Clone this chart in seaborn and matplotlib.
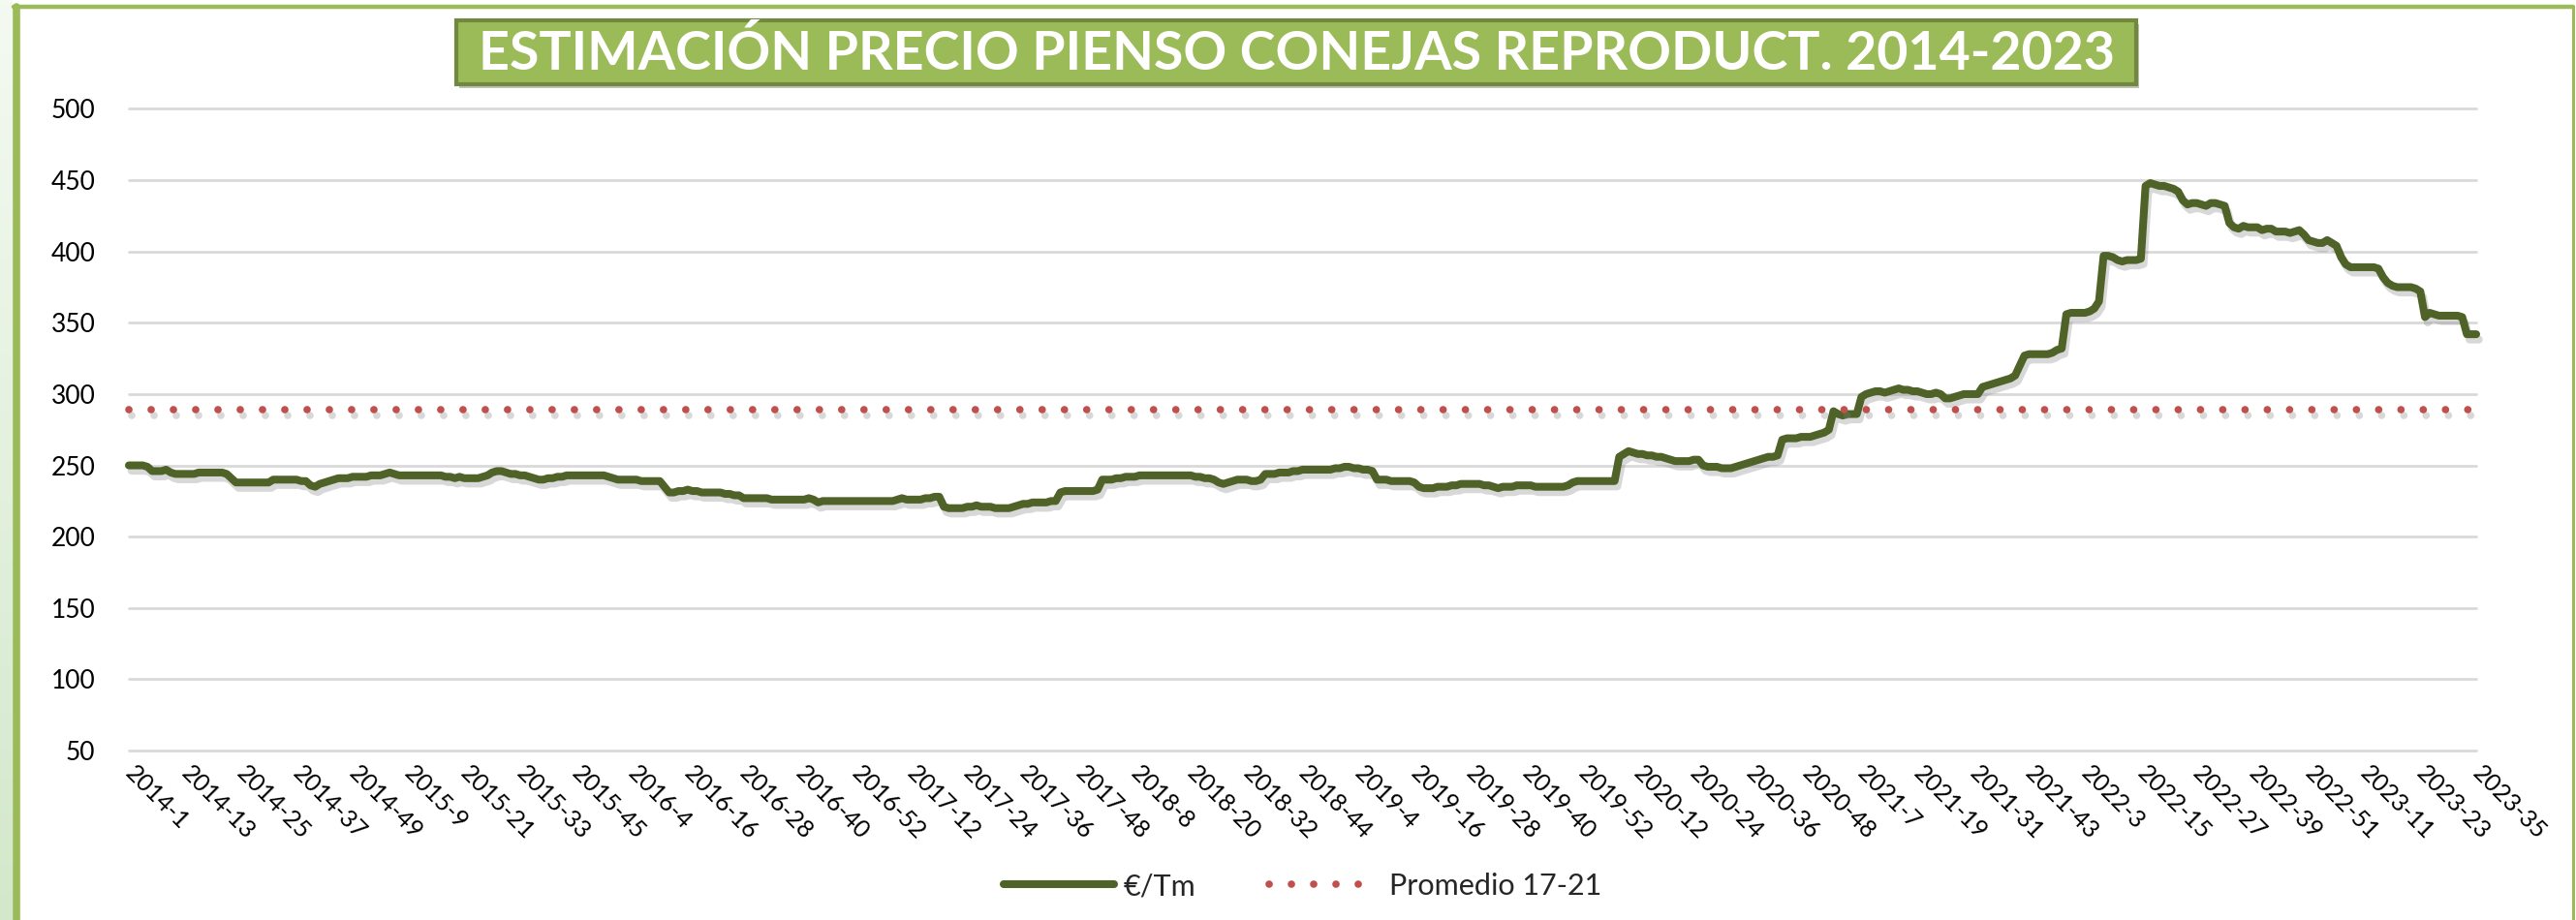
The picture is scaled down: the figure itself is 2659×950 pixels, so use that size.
import matplotlib
matplotlib.use("Agg")
import matplotlib.pyplot as plt
import matplotlib.patheffects as pe
from matplotlib.patches import Rectangle
from matplotlib.lines import Line2D
from matplotlib.colors import LinearSegmentedColormap
import numpy as np
import pandas as pd
import seaborn as sns

# weekly price estimates (EUR/Tm), one list per year
years = [2014, 2015, 2016, 2017, 2018, 2019, 2020, 2021, 2022, 2023]
weeks_in_year = [52, 53, 52, 52, 52, 52, 53, 52, 52, 35]

p2014 = [250, 250, 250, 250, 249, 246, 246, 246, 247, 245,
         244, 244, 244, 244, 244, 245, 245, 245, 245, 245,
         245, 244, 241, 238, 238, 238, 238, 238, 238, 238,
         238, 240, 240, 240, 240, 240, 240, 239, 239, 236,
         235, 237, 238, 239, 240, 241, 241, 241, 242, 242,
         242, 242]
p2015 = [243, 243, 243, 244, 245, 244, 243, 243, 243, 243,
         243, 243, 243, 243, 243, 243, 242, 242, 241, 242,
         241, 241, 241, 241, 242, 243, 245, 246, 246, 245,
         244, 244, 243, 243, 242, 241, 240, 240, 241, 241,
         242, 242, 243, 243, 243, 243, 243, 243, 243, 243,
         243, 242, 241]
p2016 = [240, 240, 240, 240, 240, 239, 239, 239, 239, 239,
         235, 231, 231, 232, 232, 233, 232, 232, 231, 231,
         231, 231, 231, 230, 230, 229, 229, 227, 227, 227,
         227, 227, 227, 226, 226, 226, 226, 226, 226, 226,
         226, 227, 226, 224, 225, 225, 225, 225, 225, 225,
         225, 225]
p2017 = [225, 225, 225, 225, 225, 225, 225, 225, 226, 227,
         226, 226, 226, 226, 227, 227, 228, 228, 221, 220,
         220, 220, 220, 221, 221, 222, 221, 221, 221, 220,
         220, 220, 220, 221, 222, 223, 223, 224, 224, 224,
         224, 225, 225, 231, 232, 232, 232, 232, 232, 232,
         232, 233]
p2018 = [240, 240, 240, 241, 241, 242, 242, 242, 243, 243,
         243, 243, 243, 243, 243, 243, 243, 243, 243, 243,
         242, 242, 241, 241, 240, 238, 237, 238, 239, 240,
         240, 240, 239, 239, 240, 244, 244, 244, 245, 245,
         245, 246, 246, 247, 247, 247, 247, 247, 247, 247,
         248, 248]
p2019 = [249, 249, 248, 248, 247, 247, 246, 240, 240, 240,
         239, 239, 239, 239, 239, 238, 235, 234, 234, 234,
         235, 235, 235, 236, 236, 237, 237, 237, 237, 237,
         236, 236, 235, 234, 235, 235, 235, 236, 236, 236,
         236, 235, 235, 235, 235, 235, 235, 235, 236, 238,
         239, 239]
p2020 = [239, 239, 239, 239, 239, 239, 239, 256, 258, 260,
         259, 258, 258, 257, 257, 256, 256, 255, 254, 253,
         253, 253, 253, 254, 254, 250, 249, 249, 249, 248,
         248, 248, 249, 250, 251, 252, 253, 254, 255, 256,
         256, 257, 268, 269, 269, 269, 270, 270, 270, 271,
         272, 273, 275]
p2021 = [288, 286, 285, 286, 286, 286, 298, 300, 301, 302,
         302, 301, 302, 303, 304, 303, 303, 302, 302, 301,
         300, 300, 301, 300, 297, 297, 298, 299, 300, 300,
         300, 300, 305, 306, 307, 308, 309, 310, 311, 313,
         320, 327, 328, 328, 328, 328, 328, 329, 331, 332,
         356, 357]
p2022 = [357, 357, 357, 358, 360, 365, 397, 397, 396, 394,
         393, 394, 394, 394, 395, 446, 448, 447, 446, 446,
         445, 444, 442, 436, 433, 434, 434, 433, 432, 434,
         434, 433, 432, 420, 417, 416, 418, 417, 417, 417,
         415, 416, 416, 414, 414, 414, 413, 414, 415, 412,
         408, 407]
p2023 = [406, 406, 408, 406, 404, 396, 391, 389, 389, 389,
         389, 389, 389, 388, 382, 378, 376, 375, 375, 375,
         375, 374, 372, 354, 357, 356, 355, 355, 355, 355,
         355, 354, 342, 342, 342]

promedio_17_21 = 289
yticks = list(range(50, 501, 50))
label_step = 12
title = "ESTIMACIÓN PRECIO PIENSO CONEJAS REPRODUCT. 2014-2023"

price = p2014 + p2015 + p2016 + p2017 + p2018 + p2019 + p2020 + p2021 + p2022 + p2023
week_labels = [f"{y}-{w}" for y, n in zip(years, weeks_in_year) for w in range(1, n + 1)]
df = pd.DataFrame({
    "idx": np.arange(len(price)),
    "semana": week_labels,
    "precio": price,
    "promedio": promedio_17_21,
})

sns.set_theme(style="white")
plt.rcParams["font.family"] = ["Lato", "DejaVu Sans"]

W, H = 2659, 950
fig = plt.figure(figsize=(W / 100, H / 100), dpi=100)

# axes placed to match the reference plot area
ax = fig.add_axes([133 / W, 1 - 775 / H, (2556 - 133) / W, (775 - 112.5) / H])

shadow = [pe.SimpleLineShadow(offset=(2, -4), shadow_color="#808080", alpha=0.3), pe.Normal()]
sns.lineplot(data=df, x="idx", y="precio", ax=ax, color="#4F6228", lw=5.8,
             label="€/Tm", solid_joinstyle="round", solid_capstyle="round",
             path_effects=shadow, clip_on=False)
sns.lineplot(data=df, x="idx", y="promedio", ax=ax, color="#C0504D", lw=5.5,
             linestyle=(0, (0.01, 3.0)), dash_capstyle="round",
             label="Promedio 17-21", path_effects=shadow, clip_on=False)

ax.set_xlim(0, len(price) - 1)
ax.set_ylim(50, 500)
ax.set_yticks(yticks)
ax.set_xticks(df["idx"][::label_step])
ax.set_xticklabels(df["semana"][::label_step], rotation=-45, ha="left", va="center",
                   rotation_mode="anchor", fontsize=18)
ax.tick_params(axis="x", length=0, pad=14, labelcolor="#000000")
ax.tick_params(axis="y", length=0, pad=25, labelsize=19, labelcolor="#000000")
ax.yaxis.grid(True, color="#D9D9D9", lw=2)
ax.xaxis.grid(False)
for gl in ax.get_ygridlines():
    gl.set_clip_on(False)
sns.despine(ax=ax, left=True, bottom=True)
ax.set_xlabel("")
ax.set_ylabel("")

leg = ax.legend(loc="center", bbox_to_anchor=(0.5 * (133 + 2556) / W, 1 - 915 / H),
                bbox_transform=fig.transFigure, ncol=2, frameon=False,
                handlelength=3.73, fontsize=22, columnspacing=2.5, handletextpad=0.3)
for h in leg.get_lines():
    h.set_path_effects([])

# outer frame
gax = fig.add_axes([0, 0, 13 / W, 1])
grad = np.linspace(0, 1, 200).reshape(-1, 1)
gax.imshow(grad, aspect="auto", cmap=LinearSegmentedColormap.from_list("g", ["#D3E8CB", "#F4FAF2"]),
           origin="lower", extent=[0, 1, 0, 1])
gax.axis("off")
fig.add_artist(Line2D([16.5 / W, 16.5 / W], [0, 1 - 7 / H], color="#9BBB59", lw=5.5,
                      transform=fig.transFigure))
fig.add_artist(Line2D([14 / W, 2656 / W], [1 - 7 / H, 1 - 7 / H], color="#9BBB59", lw=3.2,
                      transform=fig.transFigure))
fig.add_artist(Line2D([2655.5 / W, 2655.5 / W], [0, 1 - 7 / H], color="#9BBB59", lw=2.2,
                      transform=fig.transFigure))

# title box
box = Rectangle((471 / W, 1 - 87 / H), (2205 - 471) / W, 66 / H, transform=fig.transFigure,
                facecolor="#9BBB59", edgecolor="#71893F", lw=3,
                path_effects=[pe.SimplePatchShadow(offset=(2, -3), alpha=0.3), pe.Normal()])
fig.add_artist(box)
t = fig.text((471 + 2205) / 2 / W, 1 - 55 / H, title, color="white", fontsize=28,
             fontweight="bold", ha="center", va="center")
fig.canvas.draw()
tw = t.get_window_extent().width
t.set_fontsize(28 * 1690 / tw)

fig.savefig("out.png", dpi=100)
